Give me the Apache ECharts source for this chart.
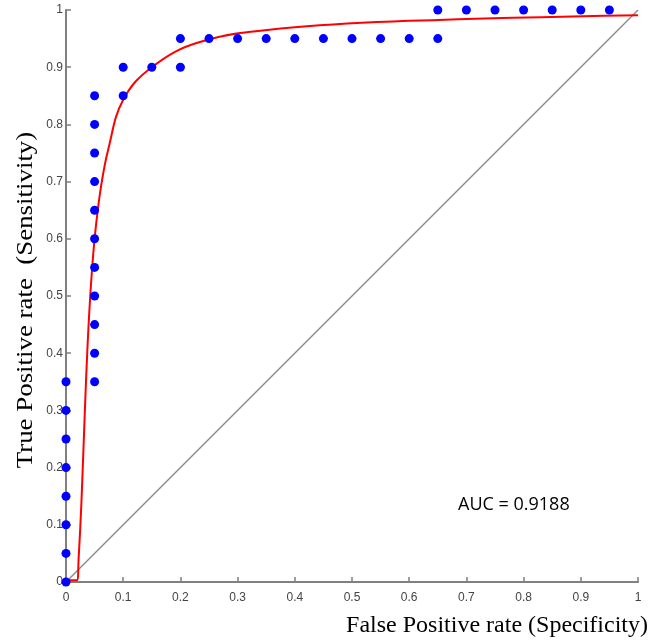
<!DOCTYPE html>
<html>
<head>
<meta charset="utf-8">
<script src="https://cdn.jsdelivr.net/npm/echarts@6/dist/echarts.min.js"></script>
<style>html,body{margin:0;padding:0;background:#fff;}#c{width:669px;height:641px;}</style>
</head>
<body>
<div id="c"></div>
<script>
// Observed ROC points (FPR, TPR)
const pointsX = [0,0,0,0,0,0,0,0,
  0.05,0.05,0.05,0.05,0.05,0.05,0.05,0.05,0.05,0.05,0.05,
  0.1,0.1,0.15,0.2,0.2,0.25,0.3,0.35,0.4,0.45,0.5,0.55,0.6,0.65,0.65,
  0.7,0.75,0.8,0.85,0.9,0.95];
const pointsY = [0,0.05,0.1,0.15,0.2,0.25,0.3,0.35,
  0.35,0.4,0.45,0.5,0.55,0.6,0.65,0.7,0.75,0.8,0.85,
  0.85,0.9,0.9,0.9,0.95,0.95,0.95,0.95,0.95,0.95,0.95,0.95,0.95,0.95,1,
  1,1,1,1,1,1];
// Fitted ROC curve
const curveX = [0,0.019,0.022,0.027,0.033,0.038,0.044,0.051,0.061,0.074,0.1,0.15,0.234,0.38,0.6,1.0];
const curveY = [0.003,0.003,0.04,0.14,0.30,0.42,0.525,0.61,0.69,0.757,0.843,0.90,0.944,0.968,0.981,0.991];
// Chance diagonal
const diagX = [0,1];
const diagY = [0,1];
const aucText = 'AUC = 0.9188';
const xTitle = 'False Positive rate (Specificity)';
const yTitle = 'True Positive rate  (Sensitivity)';

const zip = (a,b)=>a.map((v,i)=>[v,b[i]]);
const chart = echarts.init(document.getElementById('c'));
const axisCommon = {
  type:'value', min:0, max:1, interval:0.1,
  axisLine:{show:true, lineStyle:{color:'#808080', width:2}},
  axisTick:{show:true, inside:true, length:5, lineStyle:{color:'#808080', width:1.5}},
  splitLine:{show:false},
  axisLabel:{color:'#444', fontFamily:'Liberation Sans', fontSize:12,
    formatter:v=>String(+v.toFixed(1))}
};
chart.setOption({
  animation:false,
  grid:{left:66, right:31, top:10, bottom:59},
  xAxis:Object.assign({}, axisCommon, {axisLabel:Object.assign({}, axisCommon.axisLabel, {margin:10})}),
  yAxis:Object.assign({}, axisCommon, {axisLabel:Object.assign({}, axisCommon.axisLabel, {margin:3})}),
  series:[
    {type:'line', data:zip(diagX,diagY), symbol:'none', lineStyle:{color:'#8c8c8c', width:1.5}, z:1},
    {type:'line', data:zip(curveX,curveY), symbol:'none', smooth:0.4, lineStyle:{color:'#ff0000', width:2}, z:2},
    {type:'scatter', data:zip(pointsX,pointsY), symbolSize:9, itemStyle:{color:'#0000ff', opacity:1}, clip:false, z:3}
  ],
  graphic:[
    {type:'text', x:648, y:626, style:{text:xTitle, font:'24px "Liberation Serif"', fill:'#000', textAlign:'right', textVerticalAlign:'middle'}},
    {type:'text', x:26, y:300, rotation:Math.PI/2, scaleX:1.12, style:{text:yTitle, font:'24px "Liberation Serif"', fill:'#000', textAlign:'center', textVerticalAlign:'middle'}},
    {type:'text', x:458, y:505, style:{text:aucText, font:'18px "Open Sans"', fill:'#000', textVerticalAlign:'middle'}}
  ]
});
</script>
</body>
</html>
